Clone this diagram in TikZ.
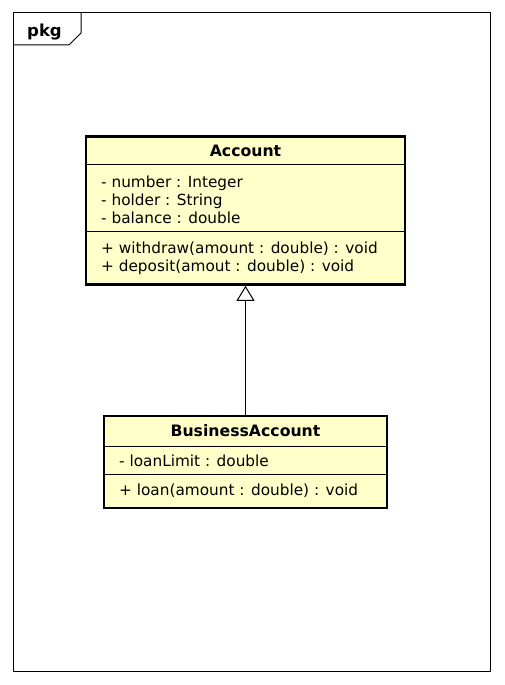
\documentclass[tikz,border=0pt]{standalone}
\usepackage{fontspec}
\setmainfont{DejaVu Sans}
\usetikzlibrary{arrows.meta}
\definecolor{umlfill}{RGB}{255,255,202}
\begin{document}
\begin{tikzpicture}[x=1pt,y=-1pt,
  framepath/.style={draw=black,line width=1pt},
  classbox/.style={draw=black,fill=umlfill,line width=2.6pt,rectangle,inner sep=0pt},
  sepline/.style={draw=black,line width=1pt},
  member/.style={anchor=base west,inner sep=0pt,font=\fontsize{15.3}{18}\selectfont},
  ctitle/.style={anchor=base,inner sep=0pt,font=\fontsize{15.7}{18}\selectfont\bfseries},
  genarrow/.style={draw=black,line width=1pt,-{Triangle[open,length=15pt,width=18pt,line width=1pt]}}]
\useasboundingbox (0,0) rectangle (504,685);
\fill[white] (0,0) rectangle (504,685);
% package frame
\draw[framepath] (13,13) rectangle (490,671);
\draw[framepath] (13,45) -- (69,45) -- (81,33) -- (81,13);
\node[ctitle,font=\fontsize{16.5}{18}\selectfont\bfseries] (pkg) at (44.5,36.5) {pkg};
% Account
\node[classbox,minimum width=319pt,minimum height=148pt] (acc) at (245.5,210.5) {};
\draw[sepline] (acc.west |- 0,164) -- (acc.east |- 0,164);
\draw[sepline] (acc.west |- 0,231) -- (acc.east |- 0,231);
\node[ctitle] (acct) at (245.5,156.5) {Account};
\node[member] (a1) at (101,187.5) {- number : Integer};
\node[member] (a2) at (101,205.5) {- holder : String};
\node[member] (a3) at (101,223.5) {- balance : double};
\node[member] (m1) at (101,253) {+ withdraw(amount : double) : void};
\node[member] (m2) at (101,271.5) {+ deposit(amout : double) : void};
% BusinessAccount
\node[classbox,minimum width=283pt,minimum height=92pt] (ba) at (245.5,462) {};
\draw[sepline] (ba.west |- 0,446) -- (ba.east |- 0,446);
\draw[sepline] (ba.west |- 0,474) -- (ba.east |- 0,474);
\node[ctitle] (bat) at (245.5,436.5) {BusinessAccount};
\node[member] (b1) at (119,466.5) {- loanLimit : double};
\node[member] (b2) at (119,495) {+ loan(amount : double) : void};
% generalization
\draw[genarrow] (ba.north) -- (acc.south);
\end{tikzpicture}
\end{document}
